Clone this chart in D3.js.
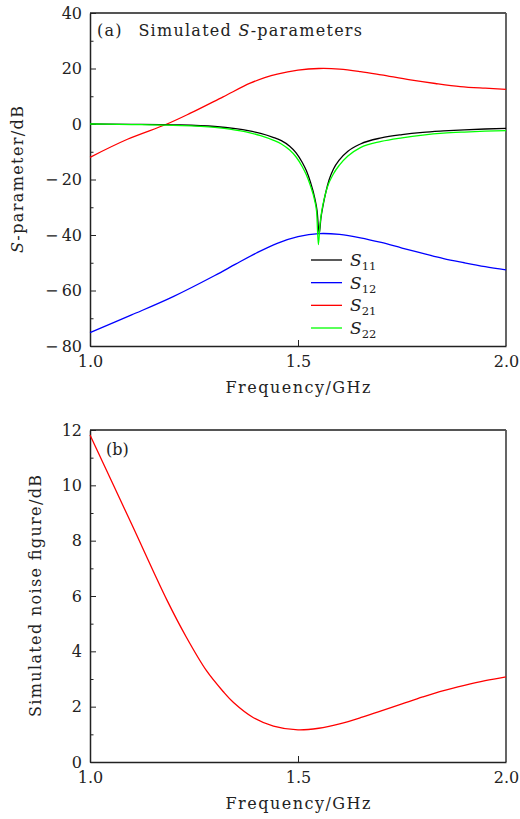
<!DOCTYPE html>
<html><head><meta charset="utf-8">
<script src="https://cdn.jsdelivr.net/npm/d3@7"></script>
<style>
html,body{margin:0;padding:0;background:#fff;}
text{font-family:"DejaVu Serif",serif;fill:#222;}
</style></head>
<body><svg id="c" width="520" height="819"></svg>
<script>
// ---------- data ----------
const s11Freq = [1.00,1.10,1.20,1.30,1.35,1.38,1.41,1.44,1.46,1.48,1.495,1.51,1.52,1.53,1.54,1.546,1.551,1.555,1.56,1.567,1.575,1.585,1.60,1.62,1.65,1.70,1.75,1.80,1.85,1.90,1.95,2.00];
const s11Vals = [0,-0.1,-0.3,-0.9,-1.7,-2.4,-3.4,-4.8,-6.0,-8.0,-10.3,-13.8,-16.8,-21,-26.5,-31.5,-39.5,-34,-29.5,-24.5,-20,-16.3,-12.8,-9.8,-7.2,-5.0,-3.8,-3.0,-2.5,-2.1,-1.8,-1.6];
const s22Freq = [1.00,1.10,1.20,1.30,1.35,1.38,1.41,1.44,1.46,1.48,1.495,1.51,1.52,1.53,1.54,1.545,1.549,1.553,1.557,1.563,1.57,1.585,1.60,1.62,1.65,1.70,1.75,1.80,1.85,1.90,1.95,2.00];
const s22Vals = [0,-0.2,-0.5,-1.2,-2.2,-3.0,-4.2,-5.8,-7.2,-9.4,-11.8,-15.3,-18.3,-22.3,-27.5,-32,-43.5,-36,-31.5,-27,-23,-18,-14.7,-11.5,-8.5,-6.3,-5.0,-4.0,-3.3,-2.9,-2.6,-2.4];
const s12Freq = [1.00,1.10,1.20,1.30,1.35,1.40,1.45,1.50,1.55,1.60,1.65,1.70,1.75,1.80,1.85,1.90,1.95,2.00];
const s12Vals = [-75.2,-68.8,-62.2,-54.6,-50.5,-46.5,-43.0,-40.6,-39.5,-39.8,-41.0,-42.7,-44.7,-46.6,-48.5,-50.0,-51.4,-52.6];
const s21Freq = [1.00,1.09,1.185,1.24,1.32,1.385,1.42,1.45,1.50,1.55,1.60,1.65,1.70,1.77,1.83,1.89,1.95,2.00];
const s21Vals = [-12.0,-5.5,0,3.8,9.8,14.7,16.7,18.0,19.4,20.0,19.8,18.9,17.7,15.9,14.6,13.5,12.9,12.5];
const nfFreq = [1.00,1.10,1.185,1.232,1.28,1.32,1.345,1.393,1.441,1.50,1.55,1.60,1.65,1.70,1.75,1.80,1.85,1.90,1.95,2.00];
const nfVals = [11.82,8.6,5.85,4.5,3.3,2.55,2.15,1.6,1.3,1.16,1.22,1.38,1.6,1.85,2.1,2.35,2.58,2.77,2.94,3.08];
const xTicks = [1.0,1.5,2.0];
const sTicks = [40,20,0,-20,-40,-60,-80];
const nfTicks = [0,2,4,6,8,10,12];
const seriesNames = ["11","12","21","22"];
const seriesColors = ["#000000","#0000ff","#ff0000","#00ff00"];

// ---------- drawing ----------
const svg = d3.select("#c");
const X0 = 90, X1 = 506;
const x = d3.scaleLinear().domain([1,2]).range([X0,X1]);
const yA = d3.scaleLinear().domain([-80,40]).range([346,13]);
const yB = d3.scaleLinear().domain([0,12]).range([762,430]);
const fmtNeg = v => v < 0 ? "\u2212\u2009" + Math.abs(v) : String(v);

function panel(y, ticks, minorStep) {
  const [b, t] = y.range();
  const g = svg.append("g");
  g.append("line").attr("x1",X0).attr("x2",X1).attr("y1",t).attr("y2",t).attr("stroke","#555").attr("stroke-width",1.8);
  g.append("line").attr("x1",X1).attr("x2",X1).attr("y1",t).attr("y2",b).attr("stroke","#555").attr("stroke-width",1.8);
  const d = y.domain();
  const minors = d3.range(d[0], d[1]+1e-9, minorStep).filter(v => !ticks.includes(v));
  g.append("g").attr("transform",`translate(${X0},0)`)
    .call(d3.axisRight(y).tickValues(minors).tickSize(3.5).tickFormat(""))
    .call(a => a.select(".domain").remove())
    .call(a => a.selectAll("line").attr("stroke","#222").attr("stroke-width",1));
  const ya = g.append("g").attr("transform",`translate(${X0},0)`)
    .call(d3.axisLeft(y).tickValues(ticks).tickSize(0).tickPadding(8).tickFormat(fmtNeg));
  ya.select(".domain").attr("stroke","#222").attr("stroke-width",1.5);
  ya.selectAll("text").attr("font-size",16).style("font-family","'DejaVu Serif',serif").attr("fill","#222");
  g.append("g").attr("transform",`translate(${X0},0)`)
    .call(d3.axisRight(y).tickValues(ticks).tickSize(6).tickFormat(""))
    .call(a => a.select(".domain").remove())
    .call(a => a.selectAll("line").attr("stroke","#222").attr("stroke-width",1));
  const xa = g.append("g").attr("transform",`translate(0,${b})`)
    .call(d3.axisBottom(x).tickValues(xTicks).tickSize(0).tickPadding(10).tickFormat(d3.format(".1f")));
  xa.select(".domain").attr("stroke","#222").attr("stroke-width",1.5);
  xa.selectAll("text").attr("font-size",16).style("font-family","'DejaVu Serif',serif").attr("fill","#222");
  g.append("g").attr("transform",`translate(0,${b})`)
    .call(d3.axisTop(x).tickValues([1.5]).tickSize(6).tickFormat(""))
    .call(a => a.select(".domain").remove())
    .call(a => a.selectAll("line").attr("stroke","#222").attr("stroke-width",1));
  g.append("text").attr("x",(X0+X1)/2).attr("y",b+47).attr("text-anchor","middle")
    .attr("font-size",16).attr("textLength",145).attr("lengthAdjust","spacing").text("Frequency/GHz");
  return g;
}

panel(yA, sTicks, 10);
panel(yB, nfTicks, 1);

const seriesF = [s11Freq,s12Freq,s21Freq,s22Freq];
const seriesV = [s11Vals,s12Vals,s21Vals,s22Vals];
const curves = [d3.curveMonotoneX, d3.curveCatmullRom.alpha(0.5), d3.curveCatmullRom.alpha(0.5), d3.curveMonotoneX];
[2,1,0,3].forEach(k => {
  const fs = seriesF[k];
  const path = d3.line().x((d,i)=>x(fs[i])).y(d=>yA(d)).curve(curves[k])(seriesV[k]);
  svg.append("path").attr("d", path)
    .attr("fill","none").attr("stroke",seriesColors[k]).attr("stroke-width",1.3);
});
svg.append("path")
  .attr("d", d3.line().x((d,i)=>x(nfFreq[i])).y(d=>yB(d)).curve(d3.curveCatmullRom.alpha(0.5))(nfVals))
  .attr("fill","none").attr("stroke","#ff0000").attr("stroke-width",1.3);

// panel labels
const ta = svg.append("text").attr("x",97).attr("y",36).attr("font-size",16)
  .attr("textLength",265).attr("lengthAdjust","spacing");
ta.append("tspan").text("(a)\u2002 Simulated ");
ta.append("tspan").attr("font-style","italic").text("S");
ta.append("tspan").text("-parameters");
svg.append("text").attr("x",106).attr("y",455).attr("font-size",16).text("(b)");

// y titles
const tyA = svg.append("text").attr("transform",`translate(23,${(106+253)/2}) rotate(-90)`)
  .attr("text-anchor","middle").attr("font-size",16).attr("textLength",147).attr("lengthAdjust","spacing");
tyA.append("tspan").attr("font-style","italic").text("S");
tyA.append("tspan").text("-parameter/dB");
svg.append("text").attr("transform",`translate(41,${(475+717)/2}) rotate(-90)`)
  .attr("text-anchor","middle").attr("font-size",16).attr("textLength",242).attr("lengthAdjust","spacing")
  .text("Simulated noise figure/dB");

// legend
const legY = d3.scalePoint().domain(seriesNames).range([260,328]);
seriesNames.forEach((n,k) => {
  const yy = legY(n);
  svg.append("line").attr("x1",311).attr("x2",342).attr("y1",yy).attr("y2",yy)
    .attr("stroke",seriesColors[k]).attr("stroke-width",1.3);
  const t = svg.append("text").attr("x",350).attr("y",yy+6).attr("font-size",17);
  t.append("tspan").attr("font-style","italic").text("S");
  t.append("tspan").attr("font-size",11.5).attr("dy",4).text(n);
});
</script></body></html>
